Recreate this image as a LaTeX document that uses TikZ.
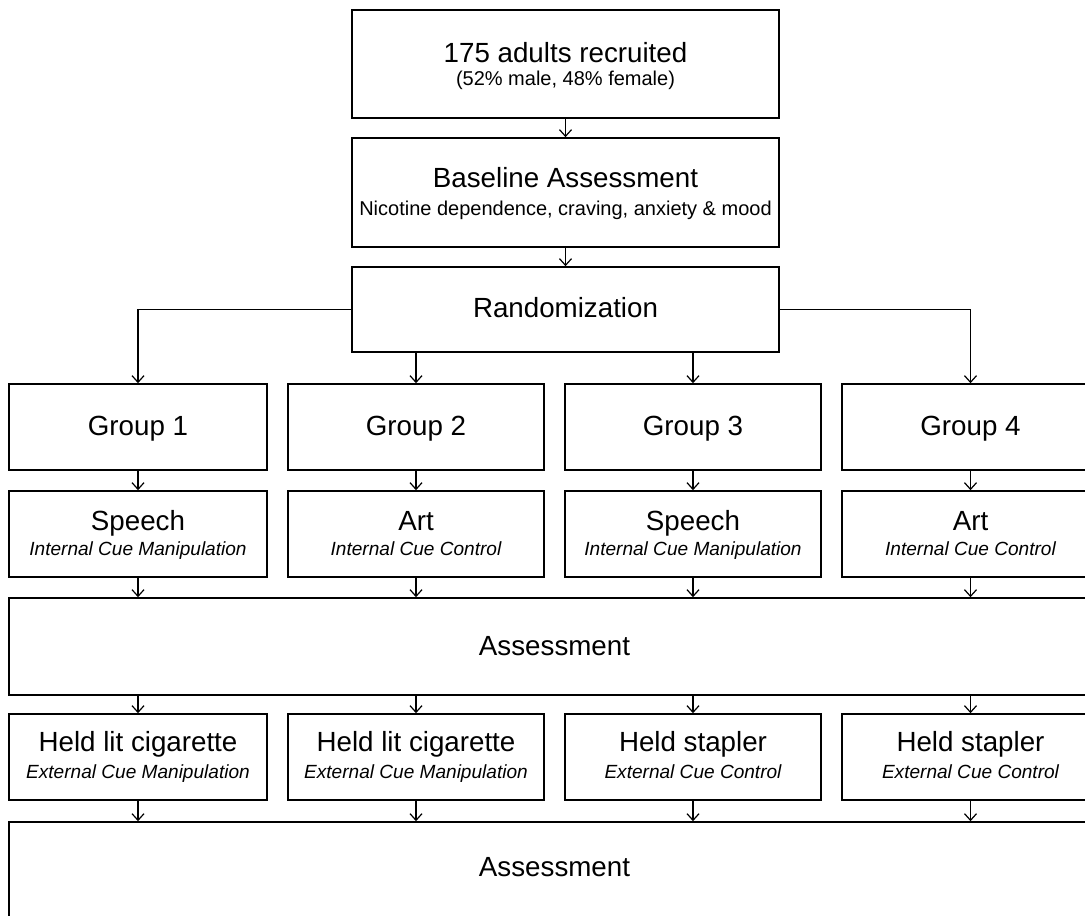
\documentclass[tikz,border=0pt]{standalone}
\usepackage{fontspec}
\setmainfont{Liberation Sans}
\usetikzlibrary{arrows.meta,fit}
\begin{document}
\begin{tikzpicture}[x=0.75pt,y=-0.75pt,
 box/.style={draw, line width=1.2pt, inner sep=0pt},
 arr/.style={line width=0.9pt, -{Straight Barb[length=5pt,width=9pt,line width=0.9pt]}},
 main/.style={font=\fontsize{20.8}{24}\selectfont, inner sep=0pt, anchor=base},
 sub/.style={font=\fontsize{15}{17}\selectfont, inner sep=0pt, anchor=base},
 isub/.style={font=\fontsize{14.3}{16}\selectfont\itshape, inner sep=0pt, anchor=base}]
\useasboundingbox (0,0) rectangle (1085,915);
\clip (0,0) rectangle (1085,915);
\fill[white] (0,0) rectangle (1085,915);
% top boxes
\node[box, fit={(352,10) (779,118)}] (top) {};
\node[main] (topt) at (565.5,62) {175 adults recruited};
\node[sub] (tops) at (565.5,85) {(52\% male, 48\% female)};
\node[box, fit={(352,138) (779,247)}] (base) {};
\node[main] (baset) at (565.5,187) {Baseline Assessment};
\node[sub] (bases) at (565.5,215) {Nicotine dependence, craving, anxiety \& mood};
\node[box, fit={(352,267) (779,352)}] (rand) {};
\node[main] (randt) at (565.5,317) {Randomization};
% groups
\node[box, fit={(9,384) (267,470)}] (g1) {};
\node[box, fit={(288,384) (544,470)}] (g2) {};
\node[box, fit={(565,384) (821,470)}] (g3) {};
\node[box, fit={(842,384) (1099,470)}] (g4) {};
\node[main] (g1t) at (138,435) {Group 1};
\node[main] (g2t) at (416,435) {Group 2};
\node[main] (g3t) at (693,435) {Group 3};
\node[main] (g4t) at (970.5,435) {Group 4};
% internal cue
\node[box, fit={(9,491) (267,577)}] (s1) {};
\node[box, fit={(288,491) (544,577)}] (s2) {};
\node[box, fit={(565,491) (821,577)}] (s3) {};
\node[box, fit={(842,491) (1099,577)}] (s4) {};
\node[main] (s1t) at (138,530) {Speech};
\node[isub] (s1s) at (138,555) {Internal Cue Manipulation};
\node[main] (s2t) at (416,530) {Art};
\node[isub] (s2s) at (416,555) {Internal Cue Control};
\node[main] (s3t) at (693,530) {Speech};
\node[isub] (s3s) at (693,555) {Internal Cue Manipulation};
\node[main] (s4t) at (970.5,530) {Art};
\node[isub] (s4s) at (970.5,555) {Internal Cue Control};
% assessment 1
\node[box, fit={(9,598) (1100,695)}] (a1) {};
\node[main] (a1t) at (554.5,655) {Assessment};
% external cue
\node[box, fit={(9,714) (267,800)}] (h1) {};
\node[box, fit={(288,714) (544,800)}] (h2) {};
\node[box, fit={(565,714) (821,800)}] (h3) {};
\node[box, fit={(842,714) (1099,800)}] (h4) {};
\node[main] (h1t) at (138,751) {Held lit cigarette};
\node[isub] (h1s) at (138,778) {External Cue Manipulation};
\node[main] (h2t) at (416,751) {Held lit cigarette};
\node[isub] (h2s) at (416,778) {External Cue Manipulation};
\node[main] (h3t) at (693,751) {Held stapler};
\node[isub] (h3s) at (693,778) {External Cue Control};
\node[main] (h4t) at (970.5,751) {Held stapler};
\node[isub] (h4s) at (970.5,778) {External Cue Control};
% assessment 2
\node[box, fit={(9,822) (1100,960)}] (a2) {};
\node[main] (a2t) at (554.5,876) {Assessment};
% connectors
\draw[arr] (top) -- (base);
\draw[arr] (base) -- (rand);
\draw[arr] (rand.west) -| (g1.north);
\draw[arr] (rand.east) -| (g4.north);
\draw[arr] (g2.north |- rand.south) -- (g2.north);
\draw[arr] (g3.north |- rand.south) -- (g3.north);
\foreach \i in {1,2,3,4}{
  \draw[arr] (g\i) -- (s\i);
  \draw[arr] (s\i.south) -- (s\i.south |- a1.north);
  \draw[arr] (h\i.north |- a1.south) -- (h\i.north);
  \draw[arr] (h\i.south) -- (h\i.south |- a2.north);
}
\end{tikzpicture}
\end{document}
